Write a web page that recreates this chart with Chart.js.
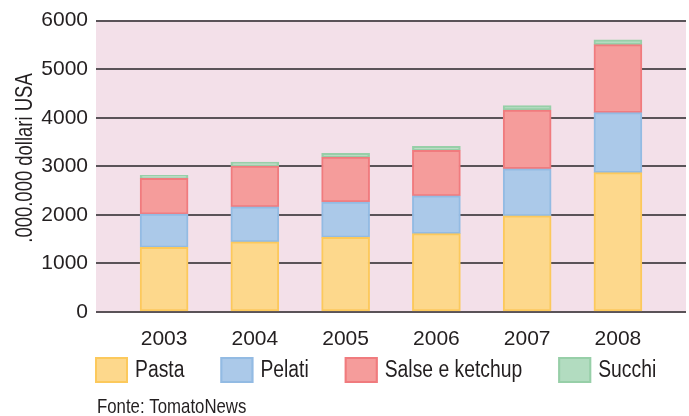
<!DOCTYPE html>
<html>
<head>
<meta charset="utf-8">
<script src="https://cdn.jsdelivr.net/npm/chart.js@4"></script>
<style>
  html, body { margin: 0; padding: 0; background: #fff; }
</style>
</head>
<body>
<canvas id="chart" width="689" height="416"></canvas>
<script>
// dati (milioni di dollari USA)
const years = ['2003', '2004', '2005', '2006', '2007', '2008'];
const pasta = [1330, 1445, 1535, 1615, 1980, 2870];
const pelati = [685, 720, 730, 775, 970, 1235];
const salse = [735, 840, 925, 940, 1210, 1400];
const succhi = [65, 80, 75, 80, 90, 100];
const yTicks = [0, 1000, 2000, 3000, 4000, 5000, 6000];
const yTitle = '.000.000 dollari USA';
const source = 'Fonte: TomatoNews';

const sans = "'Liberation Sans', Arimo, Arial, sans-serif";
const textColor = '#231f20';

function points(values) {
  return values.map((v, i) => ({ x: i, y: v }));
}

// testo "condensato": Liberation Sans schiacciata in orizzontale
function narrowText(ctx, text, x, y, size, squeeze) {
  ctx.save();
  ctx.font = size + 'px ' + sans;
  ctx.translate(x, y);
  ctx.scale(squeeze, 1);
  ctx.fillText(text, 0, 0);
  const w = ctx.measureText(text).width * squeeze;
  ctx.restore();
  return w;
}

// sfondo rosa, titolo asse, legenda e fonte
const extras = {
  id: 'extras',
  beforeDraw(chart) {
    const { ctx, chartArea: a } = chart;
    ctx.save();
    ctx.fillStyle = '#f3e0e9';
    ctx.fillRect(a.left, a.top, a.right - a.left, a.bottom - a.top);
    ctx.restore();
  },
  afterDraw(chart) {
    const ctx = chart.ctx;
    ctx.save();
    ctx.fillStyle = textColor;
    ctx.textAlign = 'center';
    ctx.textBaseline = 'alphabetic';
    ctx.translate(32, 158);
    ctx.rotate(-Math.PI / 2);
    narrowText(ctx, yTitle, 0, 0, 24, 0.77);
    ctx.restore();

    ctx.save();
    ctx.textAlign = 'left';
    ctx.textBaseline = 'alphabetic';
    let x = 95;
    chart.data.datasets.forEach(ds => {
      ctx.fillStyle = ds.backgroundColor;
      ctx.fillRect(x, 357, 33, 26);
      ctx.strokeStyle = ds.borderColor;
      ctx.lineWidth = 2;
      ctx.strokeRect(x + 1, 358, 31, 24);
      ctx.fillStyle = textColor;
      const w = narrowText(ctx, ds.label, x + 40, 377, 23, 0.84);
      x += 40 + w + 36;
    });
    narrowText(ctx, source, 97, 413, 21, 0.8);
    ctx.restore();
  }
};

const seg = (label, data, bg, border) => ({
  label: label,
  data: points(data),
  backgroundColor: bg,
  borderColor: border,
  borderWidth: 2,
  borderSkipped: false,
  barThickness: 48
});

function draw() {
  new Chart(document.getElementById('chart'), {
    type: 'bar',
    data: {
      datasets: [
        seg('Pasta', pasta, '#fdd88c', '#fcc95c'),
        seg('Pelati', pelati, '#abc9e9', '#93bbe3'),
        seg('Salse e ketchup', salse, '#f59c9b', '#f07b7e'),
        seg('Succhi', succhi, '#b2dcc0', '#97cfa8')
      ]
    },
    options: {
      responsive: false,
      animation: false,
      layout: { padding: { top: 20, right: 3, left: 0, bottom: 0 } },
      plugins: {
        legend: { display: false },
        tooltip: { enabled: false }
      },
      scales: {
        x: {
          type: 'linear',
          stacked: true,
          offset: false,
          min: -0.75,
          max: 5.75,
          afterBuildTicks: axis => { axis.ticks = years.map((_, i) => ({ value: i })); },
          afterFit: axis => { axis.height = 104; },
          grid: { display: false },
          border: { display: false },
          ticks: {
            padding: 7,
            color: textColor,
            font: { family: sans, size: 21 },
            callback: v => years[v]
          }
        },
        y: {
          stacked: true,
          min: 0,
          max: 6000,
          afterBuildTicks: axis => { axis.ticks = yTicks.map(v => ({ value: v })); },
          afterFit: axis => { axis.width = 96; },
          grid: { color: '#5a5358', lineWidth: 2, drawTicks: false },
          border: { display: false },
          ticks: {
            padding: 8,
            color: textColor,
            font: { family: sans, size: 21 },
            callback: v => String(v)
          }
        }
      }
    },
    plugins: [extras]
  });
}

document.fonts.load("21px 'Liberation Sans'").then(draw, draw);
</script>
</body>
</html>
